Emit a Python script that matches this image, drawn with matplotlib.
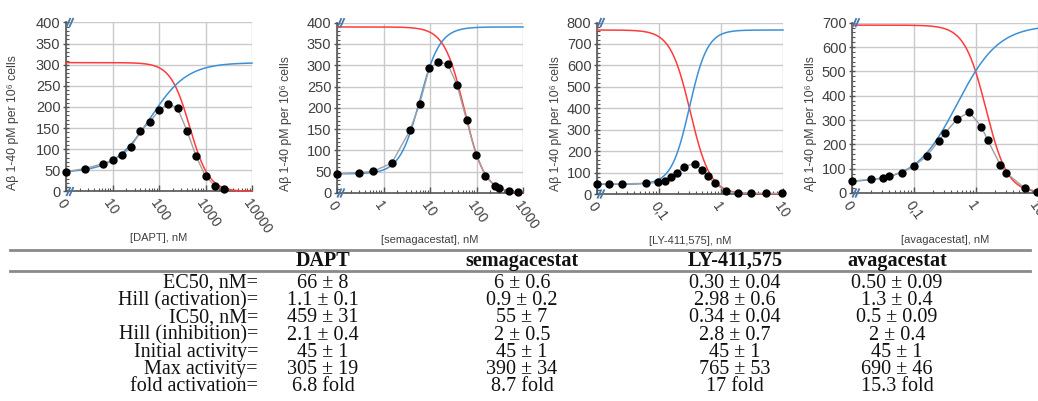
import numpy as np
import matplotlib
matplotlib.use('Agg')
import matplotlib.pyplot as plt
from matplotlib.ticker import FixedLocator, LogLocator, NullFormatter, AutoMinorLocator
from matplotlib.lines import Line2D

# ---------------- data ----------------
compounds = ['DAPT', 'semagacestat', 'LY-411,575', 'avagacestat']
x_labels = ['[DAPT], nM', '[semagacestat], nM', '[LY-411,575], nM', '[avagacestat], nM']

dapt_conc = [0, 2.5, 6.3, 10, 16, 25, 40, 63, 100, 160, 250, 400, 630, 1000, 1600, 2500]
dapt_ab = [47, 54, 66, 74, 86, 105, 143, 164, 192, 208, 197, 144, 83, 36, 13, 5]

sema_conc = [0, 0.3, 0.6, 1.5, 3.7, 6, 9.6, 15, 24, 38, 61, 98, 156, 248, 310, 490, 780]
sema_ab = [45, 48, 51, 70, 147, 209, 293, 307, 303, 254, 172, 89, 41, 17, 11, 5, 2]

ly_conc = [0, 0.0156, 0.025, 0.062, 0.098, 0.123, 0.157, 0.195, 0.25, 0.38, 0.486, 0.62, 0.787, 1.22, 1.9, 3.06, 5.3, 9.5]
ly_ab = [48, 47, 47, 50, 54, 61, 80, 100, 128, 142, 113, 82, 50, 13, 6, 4, 3, 3]

ava_conc = [0, 0.02, 0.032, 0.04, 0.064, 0.1, 0.16, 0.25, 0.32, 0.5, 0.78, 1.22, 1.55, 2.45, 3.1, 6.1, 9.6]
ava_ab = [48, 56, 61, 71, 84, 110, 152, 214, 248, 305, 332, 273, 216, 117, 82, 20, 6]

concs = [dapt_conc, sema_conc, ly_conc, ava_conc]
abetas = [dapt_ab, sema_ab, ly_ab, ava_ab]

# x axis: limits, tick positions ("0" sits at the lower limit) and labels
x_min = [1, 0.1, 0.01, 0.01]
x_max = [10000, 1000, 10, 10]
x_ticks = [[1, 10, 100, 1000, 10000], [0.1, 1, 10, 100, 1000],
           [0.01, 0.1, 1, 10], [0.01, 0.1, 1, 10]]
x_ticklabels = [['0', '10', '100', '1000', '10000'], ['0', '1', '10', '100', '1000'],
                ['0', '0,1', '1', '10'], ['0', '0,1', '1', '10']]
y_max = [400, 400, 800, 700]
y_step = [50, 50, 100, 100]

# fitted curve parameters (as drawn)
act_base = [45, 45, 45, 45]
act_max = [305, 390, 765, 690]
act_ec50 = [66, 6, 0.31, 0.5]
act_hill = [1.1, 2.0, 3.0, 1.3]
inh_ic50 = [459, 55, 0.32, 1.45]
inh_hill = [2.1, 2.0, 2.7, 2.5]

# table
row_labels = ['EC50, nM=', 'Hill (activation)=', 'IC50, nM=', 'Hill (inhibition)=',
              'Initial activity=', 'Max activity=', 'fold activation=']
dapt_tab = ['66 ± 8', '1.1 ± 0.1', '459 ± 31', '2.1 ± 0.4', '45 ± 1', '305 ± 19', '6.8 fold']
sema_tab = ['6 ± 0.6', '0.9 ± 0.2', '55 ± 7', '2 ± 0.5', '45 ± 1', '390 ± 34', '8.7 fold']
ly_tab = ['0.30 ± 0.04', '2.98 ± 0.6', '0.34 ± 0.04', '2.8 ± 0.7', '45 ± 1', '765 ± 53', '17 fold']
ava_tab = ['0.50 ± 0.09', '1.3 ± 0.4', '0.5 ± 0.09', '2 ± 0.4', '45 ± 1', '690 ± 46', '15.3 fold']
table_cols = [dapt_tab, sema_tab, ly_tab, ava_tab]

# ---------------- figure ----------------
W, H = 1038, 401
fig = plt.figure(figsize=(W / 100, H / 100), dpi=100)
sans = ['Liberation Sans', 'DejaVu Sans']
serif = ['Liberation Serif', 'DejaVu Serif']
txt_col = '#404040'

boxes = [(66, 252, 22.5, 191.5), (337, 523, 22.7, 193), (597, 783, 22.5, 194), (852, 1038, 22.7, 193)]
ylab_x = [-0.25, -0.24, -0.19, -0.19]

for i in range(4):
    l, r, t, b = boxes[i]
    ax = fig.add_axes([l / W, 1 - b / H, (r - l) / W, (b - t) / H])
    ax.set_xscale('log')
    ax.set_xlim(x_min[i], x_max[i])
    ax.set_ylim(0, y_max[i])

    xs = np.logspace(np.log10(x_min[i]), np.log10(x_max[i]), 500)
    act = act_base[i] + (act_max[i] - act_base[i]) / (1 + (act_ec50[i] / xs) ** act_hill[i])
    inh = act_max[i] / (1 + (xs / inh_ic50[i]) ** inh_hill[i])
    ax.plot(xs, inh, color='#ff3b3b', lw=1.1, zorder=3, clip_on=False)
    ax.plot(xs, act, color='#3d8fd6', lw=1.1, zorder=3, clip_on=False)

    cx = [c if c > 0 else x_min[i] for c in concs[i]]
    ax.plot(cx, abetas[i], color='#a0a0a0', lw=1.0, zorder=4, clip_on=False)
    ax.plot(cx, abetas[i], 'o', color='black', ms=5.0, zorder=5, clip_on=False)

    ax.xaxis.set_major_locator(FixedLocator(x_ticks[i]))
    ax.xaxis.set_minor_locator(LogLocator(base=10, subs=np.arange(2, 10), numticks=20))
    ax.xaxis.set_minor_formatter(NullFormatter())
    ax.set_xticklabels(x_ticklabels[i], rotation=-55, ha='left', va='top',
                       rotation_mode='anchor', family=sans, fontsize=10, color=txt_col)
    ax.set_yticks(np.arange(0, y_max[i] + 1, y_step[i]))
    ax.yaxis.set_minor_locator(AutoMinorLocator(5))
    for lab in ax.get_yticklabels():
        lab.set_family(sans)
        lab.set_fontsize(10.5)
        lab.set_color(txt_col)
    ax.tick_params(axis='x', which='major', direction='in', length=4, width=1, color='#555555', pad=4)
    ax.tick_params(axis='x', which='minor', direction='in', length=2.5, width=0.8, color='#555555')
    ax.tick_params(axis='y', which='major', direction='inout', length=5, width=1, color='#555555', pad=1.5)
    ax.tick_params(axis='y', which='minor', direction='in', length=2.5, width=0.8, color='#555555')

    ax.grid(True, which='major', color='#cacaca', lw=1)
    ax.set_axisbelow(True)
    for s in ['top', 'right']:
        ax.spines[s].set_visible(False)
    for s in ['left', 'bottom']:
        ax.spines[s].set_color('#555555')
        ax.spines[s].set_linewidth(1.2)

    ax.set_ylabel('Aβ 1-40 pM per 10⁶ cells', family=sans, fontsize=8.8, color=txt_col)
    ax.yaxis.set_label_coords(ylab_x[i], 0.41)
    ax.set_xlabel(x_labels[i], family=sans, fontsize=8, color=txt_col)
    ax.xaxis.set_label_coords(0.5, -0.245)

    # axis break marks
    for yy in (0, 1):
        for dx in (0.0, 0.016):
            ax.plot([0.004 + dx, 0.022 + dx], [yy - 0.022, yy + 0.022], transform=ax.transAxes,
                    color='#4a78a8', lw=1.3, clip_on=False, zorder=6)

# ---------------- table ----------------
def fx(px):
    return px / W

def fy(py):
    return 1 - py / H

for yl in (250, 270.5):
    fig.add_artist(Line2D([fx(10), fx(1030)], [fy(yl), fy(yl)], color='#8a8a8a', lw=2))

col_centers = [323, 522, 735, 897]
header_y = 261
row_y0 = 283.5
row_dy = 17.2
fs = 14.5
for j, name in enumerate(compounds):
    fig.text(fx(col_centers[j]), fy(header_y), name, family=serif, fontsize=fs, weight='bold',
             ha='center', va='center', color='#111111')
for k, lab in enumerate(row_labels):
    yk = row_y0 + k * row_dy
    fig.text(fx(258), fy(yk), lab, family=serif, fontsize=fs, ha='right', va='center', color='#111111')
    for j in range(4):
        fig.text(fx(col_centers[j]), fy(yk), table_cols[j][k], family=serif, fontsize=fs,
                 ha='center', va='center', color='#111111')

fig.savefig('out.png', dpi=100)
